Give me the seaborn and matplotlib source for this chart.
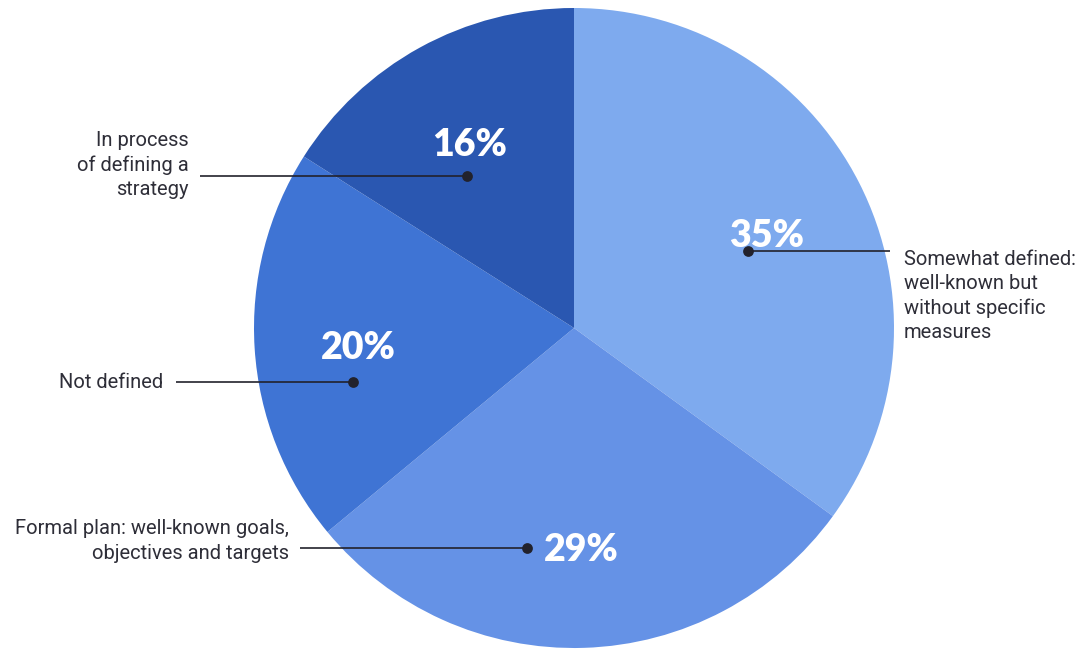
import matplotlib
matplotlib.use("Agg")
import matplotlib.pyplot as plt
import seaborn as sns

# Strategy maturity breakdown (percent of respondents)
categories = [
    "Somewhat defined:\nwell-known but\nwithout specific\nmeasures",
    "Formal plan: well-known goals,\nobjectives and targets",
    "Not defined",
    "In process\nof defining a\nstrategy",
]
shares = [35, 29, 20, 16]
pct_labels = [f"{v}%" for v in shares]
colors = ["#7EAAEE", "#6592E6", "#3F74D4", "#2A57B1"]

sns.set_theme(style="white")
plt.rcParams["font.family"] = ["Roboto", "DejaVu Sans"]

W, H = 1082, 651
fig = plt.figure(figsize=(W / 100, H / 100), dpi=100)
ax = fig.add_axes([0, 0, 1, 1])


def py(y):
    """Convert a top-down pixel row to the axes' y coordinate."""
    return H - y


cx, cy, radius = 574, 328, 320
wedges, texts, autotexts = ax.pie(
    shares,
    colors=colors,
    startangle=90,
    counterclock=False,
    center=(cx, py(cy)),
    radius=radius,
    autopct=lambda p: "",
    pctdistance=0.675,
    wedgeprops=dict(linewidth=0),
)
for at, lab in zip(autotexts, pct_labels):
    at.set_text(lab)
    at.set_color("white")
    at.set_fontsize(27)
    at.set_fontweight("heavy")
    at.set_fontfamily(["Lato", "DejaVu Sans"])
    at.set_va("center_baseline")
    x0, y0 = at.get_position()
    at.set_position((x0, y0 - 3))

# Leader lines: (dot x, dot y, line end x, label x, alignment, label centre y)
leaders = [
    (748, 251, 890, 904, "left", 296),
    (527, 548, 300, 289, "right", 541),
    (353, 382, 176, 163, "right", 383),
    (467, 176, 200, 189, "right", 165),
]
line_color = "#22222C"
for (dx, dy, ex, tx, ha, ty), text in zip(leaders, categories):
    ax.plot([ex, dx], [py(dy), py(dy)], color=line_color, lw=1.2,
            solid_capstyle="butt", zorder=3)
    ax.scatter([dx], [py(dy)], s=60, color=line_color, zorder=4, linewidths=0)
    ax.text(tx, py(ty), text, ha=ha, va="center", fontsize=14.5,
            color="#2E2E38", linespacing=1.35, multialignment=ha)

ax.set_xlim(0, W)
ax.set_ylim(0, H)
ax.set_aspect("equal")
ax.axis("off")
fig.savefig("out.png", dpi=100, facecolor="white")
